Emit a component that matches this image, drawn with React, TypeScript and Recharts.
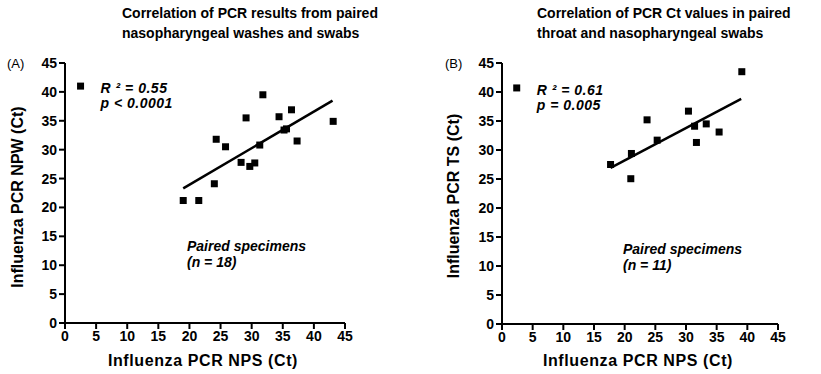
import React from "react";
import { ScatterChart, Scatter, XAxis, YAxis } from "recharts";

// panel A: NPS vs NPW
const npsA = [19.0, 21.5, 24.0, 24.3, 25.8, 28.3, 29.1, 29.7, 30.5, 31.3, 31.8, 34.4, 35.2, 35.6, 36.4, 37.3, 43.1];
const npwA = [21.2, 21.2, 24.1, 31.8, 30.5, 27.8, 35.5, 27.1, 27.7, 30.8, 39.5, 35.7, 33.4, 33.6, 36.9, 31.5, 34.9];
const fitXA = [19.0, 43.0];
const fitYA = [23.3, 38.5];
const keyA = [2.5, 41.0];

// panel B: NPS vs TS
const npsB = [17.7, 21.0, 21.1, 23.65, 25.3, 30.4, 31.4, 31.7, 33.3, 35.4, 39.1];
const tsB = [27.5, 25.05, 29.4, 35.2, 31.7, 36.7, 34.1, 31.3, 34.5, 33.1, 43.5];
const fitXB = [17.7, 39.0];
const fitYB = [26.9, 38.8];
const keyB = [2.4, 40.7];

const ticks = [0, 5, 10, 15, 20, 25, 30, 35, 40, 45];

const FONT = "'Liberation Sans', Arial, sans-serif";
const NARROW = "'Liberation Sans Narrow', 'Arial Narrow', 'Liberation Sans', Arial, sans-serif";

const toPts = (xs: number[], ys: number[]) => xs.map((x, i) => ({ x, y: ys[i] }));

const Square = (props: any) => (
  <rect x={props.cx - 3.5} y={props.cy - 3.5} width={7} height={7} fill="#000" />
);

const NoDot = () => <g />;

function keyShape(line1: string, line2: string) {
  const txt = {
    fontFamily: FONT,
    fontSize: 14,
    fontWeight: "bold",
    fontStyle: "italic",
    letterSpacing: 0.5,
    fill: "#000",
  } as const;
  return (props: any) => (
    <g>
      <rect x={props.cx - 3.5} y={props.cy - 3.5} width={7} height={7} fill="#000" />
      <text x={props.cx + 20} y={props.cy + 7} {...txt}>
        {line1}
      </text>
      <text x={props.cx + 20} y={props.cy + 22} {...txt}>
        {line2}
      </text>
    </g>
  );
}

interface PanelProps {
  left: number;
  width: number;
  yAxisWidth: number;
  marginRight: number;
  bottom: number;
  points: { x: number; y: number }[];
  fit: { x: number; y: number }[];
  key1: { x: number; y: number }[];
  stat1: string;
  stat2: string;
}

function Panel(p: PanelProps) {
  const tickStyle = { fill: "#000", fontSize: 14, fontWeight: "bold", fontFamily: FONT };
  return (
    <div style={{ position: "absolute", left: p.left, top: 0 }}>
      <ScatterChart
        width={p.width}
        height={374}
        margin={{ top: 63, right: p.marginRight, left: 0, bottom: 0 }}
      >
        <XAxis
          type="number"
          dataKey="x"
          domain={[0, 45]}
          ticks={ticks}
          interval={0}
          height={p.bottom}
          tick={tickStyle}
          tickSize={6}
          axisLine={{ stroke: "#000", strokeWidth: 2 }}
          tickLine={{ stroke: "#000", strokeWidth: 2 }}
        />
        <YAxis
          type="number"
          dataKey="y"
          domain={[0, 45]}
          ticks={ticks}
          interval={0}
          width={p.yAxisWidth}
          tick={tickStyle}
          tickSize={6}
          axisLine={{ stroke: "#000", strokeWidth: 2 }}
          tickLine={{ stroke: "#000", strokeWidth: 2 }}
        />
        <Scatter
          data={p.fit}
          line={{ stroke: "#000", strokeWidth: 2.5 }}
          shape={NoDot}
          isAnimationActive={false}
        />
        <Scatter data={p.points} shape={Square} isAnimationActive={false} />
        <Scatter data={p.key1} shape={keyShape(p.stat1, p.stat2)} isAnimationActive={false} />
      </ScatterChart>
    </div>
  );
}

const abs = (style: React.CSSProperties): React.CSSProperties => ({
  position: "absolute",
  whiteSpace: "nowrap",
  color: "#000",
  ...style,
});

export default function App() {
  const italic: React.CSSProperties = {
    fontFamily: FONT,
    fontSize: 14,
    fontWeight: "bold",
    fontStyle: "italic",
    lineHeight: "16px",
  };
  const title: React.CSSProperties = {
    fontFamily: NARROW,
    fontSize: 14,
    fontWeight: "bold",
    lineHeight: "20px",
  };
  const xLabel: React.CSSProperties = {
    fontFamily: FONT,
    fontSize: 16,
    fontWeight: "bold",
    letterSpacing: 0.6,
    width: 240,
    textAlign: "center",
  };
  const yLabel: React.CSSProperties = {
    fontFamily: FONT,
    fontSize: 16,
    fontWeight: "bold",
    width: 240,
    textAlign: "center",
    lineHeight: "18px",
    transform: "rotate(-90deg)",
  };
  return (
    <div
      style={{
        position: "absolute",
        left: 0,
        top: 0,
        width: 821,
        height: 374,
        background: "#fff",
        overflow: "hidden",
      }}
    >
      <Panel
        left={0}
        width={410}
        yAxisWidth={65}
        marginRight={65}
        bottom={51}
        points={toPts(npsA, npwA)}
        fit={toPts(fitXA, fitYA)}
        key1={[{ x: keyA[0], y: keyA[1] }]}
        stat1={"R \u00B2 = 0.55"}
        stat2="p < 0.0001"
      />
      <Panel
        left={410}
        width={411}
        yAxisWidth={92}
        marginRight={43}
        bottom={50}
        points={toPts(npsB, tsB)}
        fit={toPts(fitXB, fitYB)}
        key1={[{ x: keyB[0], y: keyB[1] }]}
        stat1={"R \u00B2 = 0.61"}
        stat2="p = 0.005"
      />

      <div style={abs({ ...title, left: 122, top: 3 })}>
        Correlation of PCR results from paired
        <br />
        nasopharyngeal washes and swabs
      </div>
      <div style={abs({ ...title, left: 537, top: 3 })}>
        Correlation of PCR Ct values in paired
        <br />
        throat and nasopharyngeal swabs
      </div>

      <div style={abs({ fontFamily: FONT, fontSize: 13, left: 7, top: 56 })}>(A)</div>
      <div style={abs({ fontFamily: FONT, fontSize: 13, left: 445, top: 56 })}>(B)</div>

      <div style={abs({ ...xLabel, left: 203 - 120, top: 352 })}>Influenza PCR NPS (Ct)</div>
      <div style={abs({ ...xLabel, left: 638 - 120, top: 352 })}>Influenza PCR NPS (Ct)</div>

      <div style={abs({ ...yLabel, left: 18 - 120, top: 197 - 9 })}>Influenza PCR NPW (Ct)</div>
      <div style={abs({ ...yLabel, left: 454 - 120, top: 196 - 9 })}>Influenza PCR TS (Ct)</div>

      <div style={abs({ ...italic, left: 187, top: 238 })}>
        Paired specimens
        <br />
        (n = 18)
      </div>
      <div style={abs({ ...italic, left: 623, top: 241 })}>
        Paired specimens
        <br />
        (n = 11)
      </div>
    </div>
  );
}
